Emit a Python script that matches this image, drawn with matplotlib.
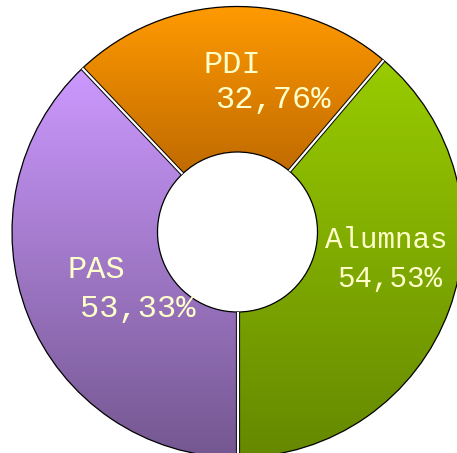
import numpy as np
import matplotlib
matplotlib.use("Agg")
import matplotlib.pyplot as plt
from matplotlib.colors import LinearSegmentedColormap

# Data
categories = ["Alumnas", "PDI", "PAS"]
values = [54.53, 32.76, 53.33]
value_labels = ["54,53%", "32,76%", "53,33%"]

# Styles
top_colors = ["#99CC00", "#FF9A00", "#CC99FF"]
bottom_colors = ["#658800", "#C06A00", "#745790"]
text_color = "#FFFFCC"

W, H = 457, 453
DPI = 100
cx, cy, R = 237.5, 232.0, 225.5   # pixel center & radius

fig = plt.figure(figsize=(W / DPI, H / DPI), dpi=DPI)
ax = fig.add_axes([0, 0, 1, 1])
ax.axis("off")

inner = 80.0 / R
wedges, _ = ax.pie(values, startangle=-90, counterclock=True, radius=1.0,
                   wedgeprops=dict(width=1.0 - inner, linewidth=0.9,
                                   edgecolor="black"))

grad = np.linspace(0, 1, 256).reshape(-1, 1)
for w, ct, cb in zip(wedges, top_colors, bottom_colors):
    w.set_facecolor("none")
    w.set_zorder(3)
    ext = w.get_path().get_extents()
    cmap = LinearSegmentedColormap.from_list("g", [cb, ct])
    im = ax.imshow(grad, cmap=cmap, origin="lower", aspect="auto",
                   extent=[ext.x0, ext.x1, ext.y0, ext.y1], zorder=2,
                   interpolation="bilinear")
    im.set_clip_path(w)

# separator gaps between wedges
total = sum(values)
ang = -90.0
for v in values:
    a = np.deg2rad(ang)
    xs = [inner * np.cos(a), 1.0 * np.cos(a)]
    ys = [inner * np.sin(a), 1.0 * np.sin(a)]
    ax.plot(xs, ys, color="black", lw=3.0, solid_capstyle="butt", zorder=4)
    ax.plot(xs, ys, color="white", lw=1.6, solid_capstyle="butt", zorder=5)
    ang += 360.0 * v / total

ax.set_aspect("auto")
ax.set_xlim(-cx / R, (W - cx) / R)
ax.set_ylim((cy - H) / R, cy / R)


def px(x, y):
    return (x - cx) / R, (cy - y) / R


# label layout (pixel positions of line starts / baselines, font sizes)
label_pos = {
    "Alumnas": ((325, 248), (337, 287), 21, 21),
    "PDI": ((203, 73), (215, 108), 23, 23),
    "PAS": ((68, 278), (80, 317), 23, 23),
}
for cat, vl in zip(categories, value_labels):
    (x1, y1), (x2, y2), fs1, fs2 = label_pos[cat]
    ax.text(*px(x1, y1), cat, color=text_color, fontsize=fs1,
            family="Liberation Mono", ha="left", va="baseline", zorder=6)
    ax.text(*px(x2, y2), vl, color=text_color, fontsize=fs2,
            family="Liberation Mono", ha="left", va="baseline", zorder=6)

fig.savefig("out.png", dpi=DPI)
